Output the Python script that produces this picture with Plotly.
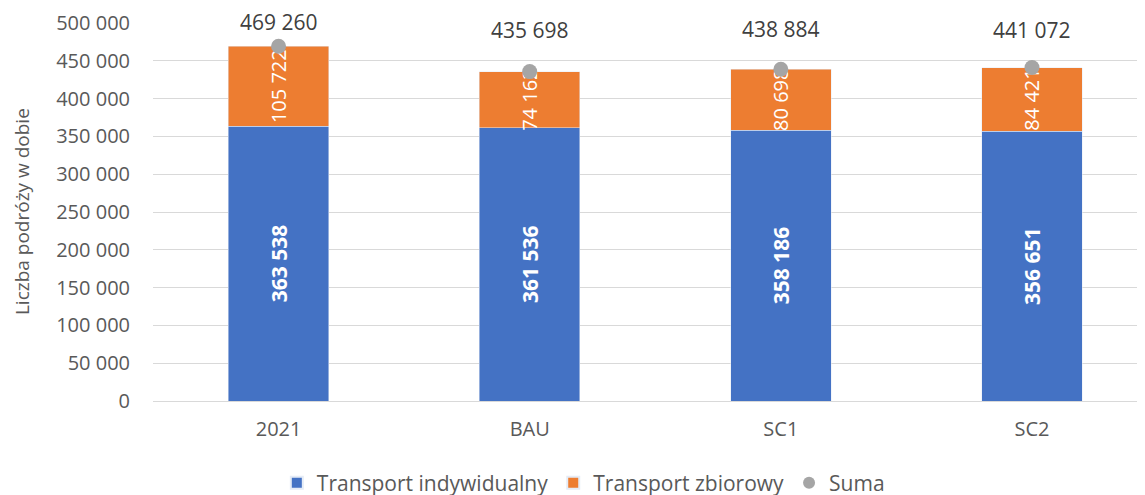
import plotly.graph_objects as go

categories = ["2021", "BAU", "SC1", "SC2"]
indywidualny = [363538, 361536, 358186, 356651]
zbiorowy = [105722, 74162, 80698, 84421]
suma = [469260, 435698, 438884, 441072]
y_ticks = [0, 50000, 100000, 150000, 200000, 250000, 300000, 350000, 400000, 450000, 500000]

# label offsets (pixels above the Suma marker), styling only
suma_label_shift = [24, 42, 40, 38]


def fmt(v):
    return f"{v:,}".replace(",", " ")


FONT = "Open Sans"

fig = go.Figure()
fig.add_trace(go.Bar(
    x=categories, y=indywidualny, name="Transport indywidualny",
    marker=dict(color="#4472C4"), width=0.4,
    text=[fmt(v) for v in indywidualny], textposition="inside",
    insidetextanchor="middle", textangle=-90, constraintext="none",
    textfont=dict(color="white", size=21, family=FONT, weight="bold"),
    hoverinfo="skip",
))
fig.add_trace(go.Bar(
    x=categories, y=zbiorowy, name="Transport zbiorowy",
    marker=dict(color="#ED7D31"), width=0.4,
    text=[fmt(v) for v in zbiorowy], textposition="inside",
    insidetextanchor="middle", textangle=-90, constraintext="none",
    textfont=dict(color="white", size=20, family=FONT),
    hoverinfo="skip",
))
fig.add_trace(go.Scatter(
    x=categories, y=suma, name="Suma", mode="markers",
    marker=dict(color="#A5A5A5", size=15),
    cliponaxis=False, hoverinfo="skip",
))

for i, (v, s) in enumerate(zip(suma, suma_label_shift)):
    fig.add_annotation(
        x=i, y=v, text=fmt(v), showarrow=False, yanchor="middle",
        yshift=s, font=dict(color="#404040", size=21, family=FONT),
    )

fig.add_annotation(
    text="Liczba podróży w dobie", xref="paper", yref="paper",
    x=-0.132, y=0.5, xanchor="center", yanchor="middle", textangle=-90,
    showarrow=False, font=dict(size=19, color="#595959", family=FONT),
)

fig.update_layout(
    width=1137, height=495,
    barmode="stack",
    paper_bgcolor="white", plot_bgcolor="white",
    margin=dict(l=145, r=0, t=15, b=102, autoexpand=False),
    font=dict(family=FONT, color="#595959", size=20),
    showlegend=True,
    legend=dict(orientation="h", xref="container", x=0.506, xanchor="center",
                yref="paper", y=-0.217, yanchor="middle",
                font=dict(size=21, color="#595959"), traceorder="normal",
                itemsizing="constant"),
    xaxis=dict(type="category", range=[-0.5, 3.45], showgrid=False, showline=True,
               linecolor="#D9D9D9", linewidth=1, ticks="",
               ticklabelstandoff=10, automargin=False,
               tickfont=dict(size=20, color="#595959")),
    yaxis=dict(range=[0, 500000], tickvals=y_ticks,
               ticktext=[fmt(v) for v in y_ticks],
               showgrid=True, gridcolor="#D9D9D9", gridwidth=1,
               zeroline=False, showline=False, automargin=False,
               ticks="", ticklabelstandoff=22,
               tickfont=dict(size=20, color="#595959")),
)

fig.write_html("out.html")
